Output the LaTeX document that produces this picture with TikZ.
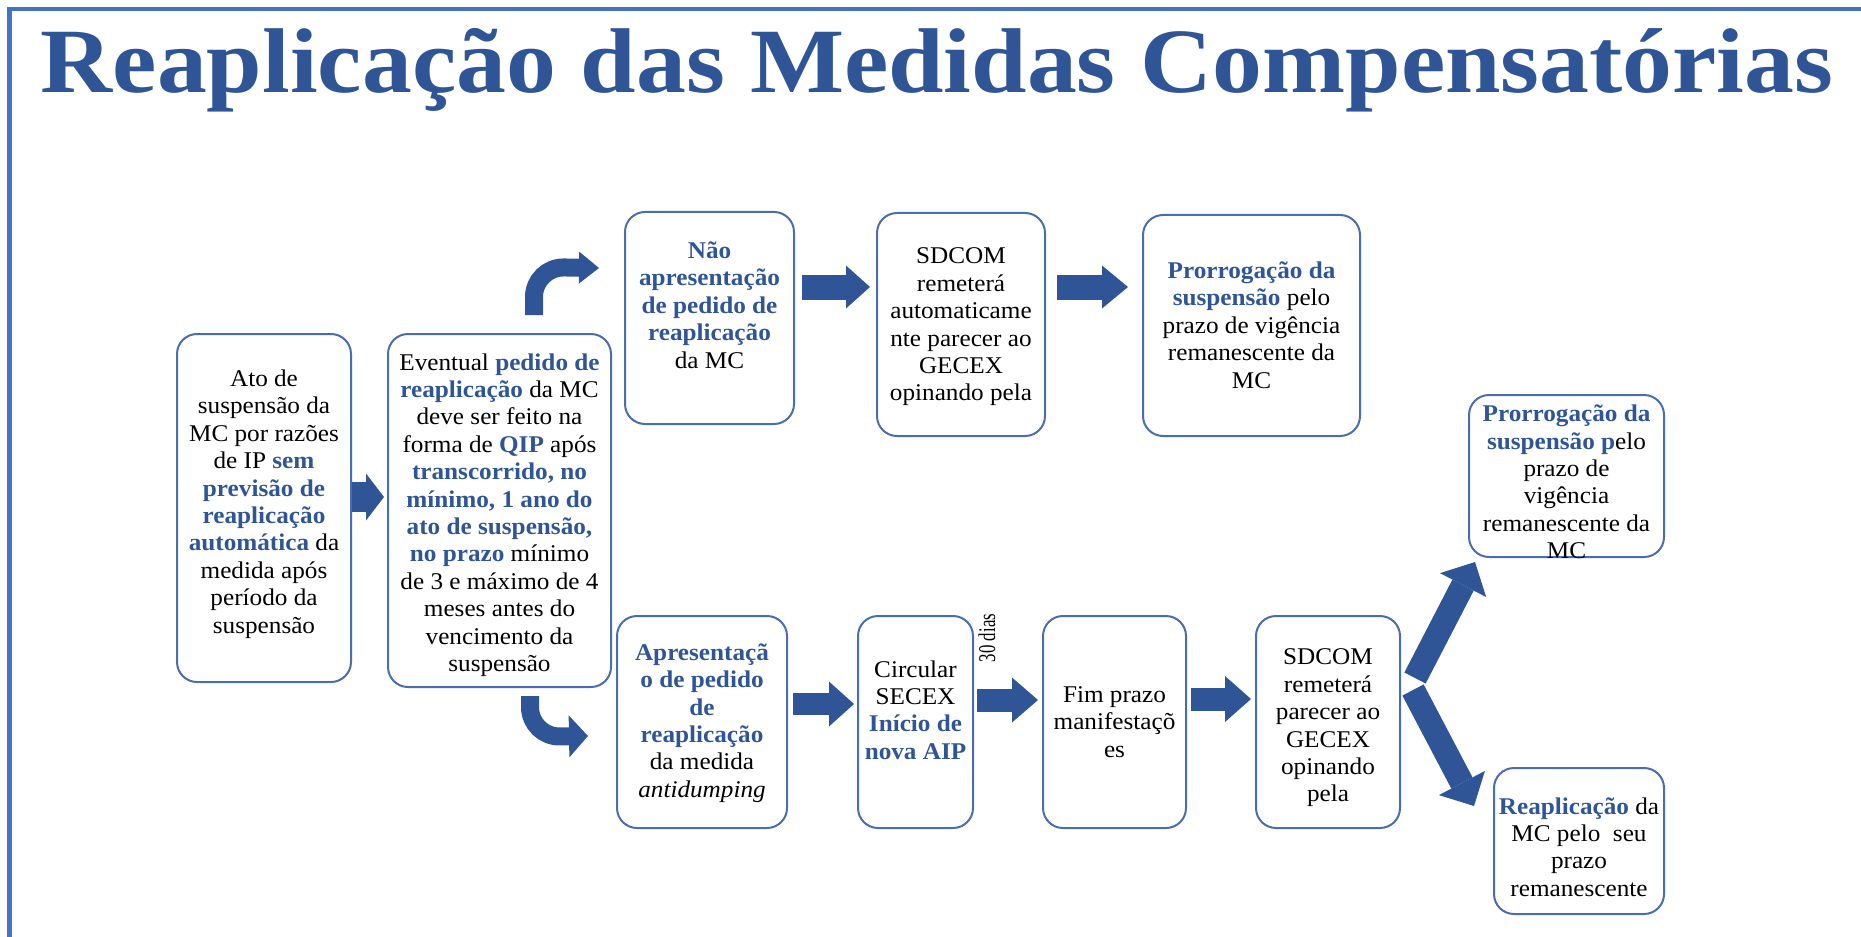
\documentclass[tikz,border=0pt]{standalone}
\usepackage{fontspec}
\setmainfont{Liberation Serif}
\usetikzlibrary{arrows.meta,calc,fit}
\definecolor{tblue}{HTML}{2F5597}
\definecolor{bord}{HTML}{4A6DB0}
\definecolor{framec}{HTML}{4472C4}
\newcommand{\hb}[1]{\textbf{\textcolor{tblue}{#1}}}
\begin{document}
\begin{tikzpicture}[x=0.5pt,y=-0.5pt,
  box/.style={draw=bord, line width=1pt, rounded corners=10pt, inner sep=0pt},
  txt/.style={align=center, font=\fontsize{12}{13.7}\selectfont, inner sep=0pt, xscale=1.05, transform shape},
  barr/.style n args={3}{draw=tblue, line width=#1, -{Triangle[line width=0pt, width=#2, length=#3]}},
  carr/.style n args={3}{draw=tblue, line width=#1, rounded corners=15pt, -{Triangle[line width=0pt, width=#2, length=#3]}}]
\useasboundingbox (0,0) rectangle (1861,936);
% frame
\draw[framec, line width=2.6pt] (9.3,960) -- (9.3,7.5);
\draw[framec, line width=1.9pt] (8,9.2) -- (1880,9.2);
% title
\node[font=\fontsize{46}{50}\selectfont\bfseries, text=tblue, xscale=1.084, transform shape, anchor=base, inner sep=0pt] (title) at (937,93) {Reaplicação das Medidas Compensatórias};
% boxes
\node[box, fit={(177,334) (351,682)}] (b1) {};
\node[box, fit={(388,334) (611,687)}] (b2) {};
\node[box, fit={(625,212) (794,424)}] (b3) {};
\node[box, fit={(877,213) (1045,436)}] (b4) {};
\node[box, fit={(1143,215) (1360,436)}] (b5) {};
\node[box, fit={(617,616) (787,828)}] (b6) {};
\node[box, fit={(858,616) (973,828)}] (b7) {};
\node[box, fit={(1043,616) (1186,828)}] (b8) {};
\node[box, fit={(1256,616) (1400,828)}] (b9) {};
\node[box, fit={(1469,395) (1664,557)}] (b10) {};
\node[box, fit={(1494,768) (1664,914)}] (b11) {};
% texts
\node[txt] (t1) at (264,504) {Ato de\\ suspensão da\\ MC por razões\\ de IP \hb{sem}\\ \hb{previsão de}\\ \hb{reaplicação}\\ \hb{automática} da\\ medida após\\ período da\\ suspensão};
\node[txt] (t2) at (499.5,515) {Eventual \hb{pedido de}\\ \hb{reaplicação} da MC\\ deve ser feito na\\ forma de \hb{QIP} após\\ \hb{transcorrido, no}\\ \hb{mínimo, 1 ano do}\\ \hb{ato de suspensão,}\\ \hb{no prazo} mínimo\\ de 3 e máximo de 4\\ meses antes do\\ vencimento da\\ suspensão};
\node[txt] (t3) at (709.5,305) {\hb{Não}\\ \hb{apresentação}\\ \hb{de pedido de}\\ \hb{reaplicação}\\ da MC};
\node[txt] (t4) at (961,327) {SDCOM\\ remeterá\\ automaticame\\ nte parecer ao\\ GECEX\\ opinando pela};
\node[txt] (t5) at (1251.5,325) {\hb{Prorrogação da}\\ \hb{suspensão} pelo\\ prazo de vigência\\ remanescente da\\ MC};
\node[txt] (t6) at (702,723) {\hb{Apresentaçã}\\ \hb{o de pedido}\\ \hb{de}\\ \hb{reaplicação}\\ da medida\\ \textit{antidumping}};
\node[txt] (t7) at (915.5,710) {Circular\\ SECEX\\ \hb{Início de}\\ \hb{nova AIP}};
\node[txt] (t8) at (1114.5,722) {Fim prazo\\ manifestaçõ\\ es};
\node[txt] (t9) at (1328,728) {SDCOM\\ remeterá\\ parecer ao\\ GECEX\\ opinando\\ pela};
\node[txt] (t10) at (1566.5,482) {\hb{Prorrogação da}\\ \hb{suspensão p}elo\\ prazo de\\ vigência\\ remanescente da\\ MC};
\node[txt] (t11) at (1579,847) {\hb{Reaplicação} da\\ MC pelo\ \ seu\\ prazo\\ remanescente};
\node[rotate=90, inner sep=0pt] (d30) at (987,638) {\scalebox{0.7}[1]{\fontsize{12}{13}\selectfont 30 dias}};
% straight block arrows
\draw[barr={15pt}{23.5pt}{9pt}] ($(b1.east)+(0,-11)$) -- ($(b2.west)+(-3,-13.5)$);
\draw[barr={12.5pt}{21.5pt}{12pt}] ($(b3.east)+(7,-31)$) -- ($(b4.west)+(-6,-37.5)$);
\draw[barr={12.5pt}{21.5pt}{13pt}] ($(b4.east)+(11,-37.5)$) -- ($(b5.west)+(-14,-38.5)$);
\draw[barr={11pt}{22.5pt}{12.5pt}] ($(b6.east)+(5,-18)$) -- ($(b7.west)+(-3,-18)$);
\draw[barr={11.5pt}{22.5pt}{13pt}] ($(b7.east)+(3,-22)$) -- ($(b8.west)+(-4,-22)$);
\draw[barr={11.5pt}{23pt}{13pt}] ($(b8.east)+(4,-23)$) -- ($(b9.west)+(-4,-23)$);
% diagonal arrows
\draw[barr={12pt}{26pt}{13pt}] ($(b9.east)+(14,-44)$) -- ($(b10.south)+(-91.5,4)$);
\draw[barr={12pt}{26pt}{13pt}] ($(b9.east)+(12,-32)$) -- ($(b11.west)+(-19,-35)$);
% curved arrows
\draw[carr={9pt}{16pt}{10pt}] ($(b2.north)+(34.5,-18)$) -- ($(b2.north)+(34.5,-66)$) -- ($(b3.west)+(-25,-50)$);
\draw[carr={9pt}{21pt}{9.5pt}] ($(b2.south)+(30.5,8)$) -- ($(b2.south)+(30.5,49)$) -- ($(b6.west)+(-28,14)$);
\end{tikzpicture}
\end{document}
